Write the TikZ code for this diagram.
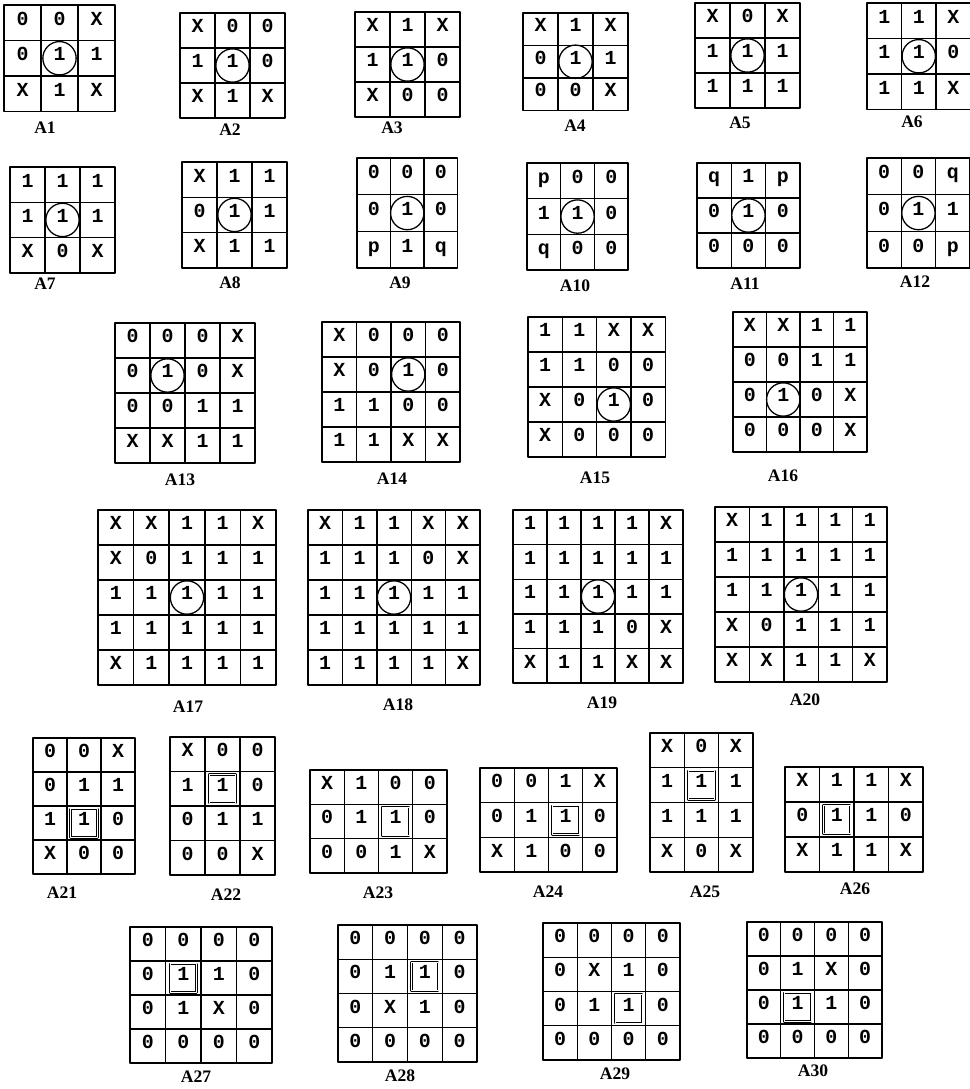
\documentclass[tikz,border=0pt]{standalone}
\usepackage{fontspec}
\newfontfamily\cellfont{Liberation Mono}
\newfontfamily\labfont{Liberation Serif}

\tikzset{
  cellbox/.style={draw, line width=1.2pt},
  cellnum/.style={font=\cellfont\bfseries\fontsize{17}{17}\selectfont, inner sep=0pt,
    text height=0.6em, text depth=0.18em},
  ring/.style={draw, circle, line width=1.1pt, minimum size=1.0cm, inner sep=0pt},
  framecell/.style={draw, double, double distance=0.6pt, line width=0.7pt,
    minimum width=0.8cm, minimum height=0.86cm, inner sep=0pt},
  plabel/.style={font=\labfont\bfseries\fontsize{15}{15}\selectfont, inner sep=0pt}
}

% #1 name, #2 top left corner, #3 cell width, #4 cell height, #5 rows
\newcommand{\patgrid}[5]{%
  \begin{scope}[shift={#2}, x=#3*0.03cm, y=-#4*0.03cm]
    \foreach \row [count=\ri] in {#5} {
      \foreach \v [count=\ci] in \row {
        \draw[cellbox] (\ci-1,\ri-1) rectangle (\ci,\ri);
        \node[cellnum] (#1-\ri-\ci) at (\ci-0.5,\ri-0.5) {\v};
      }
    }
  \end{scope}}

\begin{document}
\begin{tikzpicture}[x=0.03cm, y=-0.03cm, line join=round, line cap=round]
  \useasboundingbox (0,0) rectangle (969,1089);

  % Row 1: 3x3 masks
  \patgrid{A1}{(4,5)}{37}{35.5}{{0,0,X},{0,1,1},{X,1,X}}
  \patgrid{A2}{(180,13)}{35}{35}{{X,0,0},{1,1,0},{X,1,X}}
  \patgrid{A3}{(355,12)}{35}{35}{{X,1,X},{1,1,0},{X,0,0}}
  \patgrid{A4}{(523,13)}{35}{32.5}{{X,1,X},{0,1,1},{0,0,X}}
  \patgrid{A5}{(695,3)}{35}{35}{{X,0,X},{1,1,1},{1,1,1}}
  \patgrid{A6}{(867,3)}{34.5}{35.5}{{1,1,X},{1,1,0},{1,1,X}}
  \foreach \g in {A1,A2,A3,A4,A5,A6}
    \node[ring] (\g-mark) at (\g-2-2) {};
  \node[plabel] (A1-lab) at (45,128) {A1};
  \node[plabel] (A2-lab) at (230,130) {A2};
  \node[plabel] (A3-lab) at (392,128) {A3};
  \node[plabel] (A4-lab) at (575,126) {A4};
  \node[plabel] (A5-lab) at (740,123) {A5};
  \node[plabel] (A6-lab) at (912,122) {A6};

  % Row 2
  \patgrid{A7}{(10,167)}{35}{35.3}{{1,1,1},{1,1,1},{X,0,X}}
  \patgrid{A8}{(182,162)}{35}{35.3}{{X,1,1},{0,1,1},{X,1,1}}
  \patgrid{A9}{(357,158)}{33.5}{36.7}{{0,0,0},{0,1,0},{p,1,q}}
  \patgrid{A10}{(527,163)}{33.7}{35.7}{{p,0,0},{1,1,0},{q,0,0}}
  \patgrid{A11}{(697,163)}{34.3}{35}{{q,1,p},{0,1,0},{0,0,0}}
  \patgrid{A12}{(867,158)}{34.3}{36.7}{{0,0,q},{0,1,1},{0,0,p}}
  \foreach \g in {A7,A8,A9,A10,A11,A12}
    \node[ring] (\g-mark) at (\g-2-2) {};
  \node[plabel] (A7-lab) at (45,284) {A7};
  \node[plabel] (A8-lab) at (230,283) {A8};
  \node[plabel] (A9-lab) at (400,283) {A9};
  \node[plabel] (A10-lab) at (575,286) {A10};
  \node[plabel] (A11-lab) at (745,284) {A11};
  \node[plabel] (A12-lab) at (915,282) {A12};

  % Row 3: 4x4 masks
  \patgrid{A13}{(115,323)}{35}{35}{{0,0,0,X},{0,1,0,X},{0,0,1,1},{X,X,1,1}}
  \patgrid{A14}{(322,322)}{34.5}{35}{{X,0,0,0},{X,0,1,0},{1,1,0,0},{1,1,X,X}}
  \patgrid{A15}{(528,317)}{34.3}{35}{{1,1,X,X},{1,1,0,0},{X,0,1,0},{X,0,0,0}}
  \patgrid{A16}{(733,312)}{33.5}{35}{{X,X,1,1},{0,0,1,1},{0,1,0,X},{0,0,0,X}}
  \node[ring] (A13-mark) at (A13-2-2) {};
  \node[ring] (A14-mark) at (A14-2-3) {};
  \node[ring] (A15-mark) at (A15-3-3) {};
  \node[ring] (A16-mark) at (A16-3-2) {};
  \node[plabel] (A13-lab) at (180,480) {A13};
  \node[plabel] (A14-lab) at (392,479) {A14};
  \node[plabel] (A15-lab) at (595,478) {A15};
  \node[plabel] (A16-lab) at (783,476) {A16};

  % Row 4: 5x5 masks
  \patgrid{A17}{(98,510)}{35.6}{35}{{X,X,1,1,X},{X,0,1,1,1},{1,1,1,1,1},{1,1,1,1,1},{X,1,1,1,1}}
  \patgrid{A18}{(308,510)}{34.4}{35}{{X,1,1,X,X},{1,1,1,0,X},{1,1,1,1,1},{1,1,1,1,1},{1,1,1,1,X}}
  \patgrid{A19}{(513,510)}{34}{34.6}{{1,1,1,1,X},{1,1,1,1,1},{1,1,1,1,1},{1,1,1,0,X},{X,1,1,X,X}}
  \patgrid{A20}{(715,507)}{34.4}{35}{{X,1,1,1,1},{1,1,1,1,1},{1,1,1,1,1},{X,0,1,1,1},{X,X,1,1,X}}
  \foreach \g in {A17,A18,A19,A20}
    \node[ring] (\g-mark) at (\g-3-3) {};
  \node[plabel] (A17-lab) at (188,707) {A17};
  \node[plabel] (A18-lab) at (398,705) {A18};
  \node[plabel] (A19-lab) at (602,703) {A19};
  \node[plabel] (A20-lab) at (805,700) {A20};

  % Row 5: framed centre cell
  \patgrid{A21}{(33,738)}{34}{34}{{0,0,X},{0,1,1},{1,1,0},{X,0,0}}
  \patgrid{A22}{(170,737)}{35}{34.5}{{X,0,0},{1,1,0},{0,1,1},{0,0,X}}
  \patgrid{A23}{(310,770)}{34.25}{34.3}{{X,1,0,0},{0,1,1,0},{0,0,1,X}}
  \patgrid{A24}{(480,768)}{34.25}{34.7}{{0,0,1,X},{0,1,1,0},{X,1,0,0}}
  \patgrid{A25}{(650,733)}{34.3}{34.75}{{X,0,X},{1,1,1},{1,1,1},{X,0,X}}
  \patgrid{A26}{(785,767)}{34.5}{35}{{X,1,1,X},{0,1,1,0},{X,1,1,X}}
  \node[framecell] (A21-mark) at (A21-3-2) {};
  \node[framecell] (A22-mark) at (A22-2-2) {};
  \node[framecell] (A23-mark) at (A23-2-3) {};
  \node[framecell] (A24-mark) at (A24-2-3) {};
  \node[framecell] (A25-mark) at (A25-2-2) {};
  \node[framecell] (A26-mark) at (A26-2-2) {};
  \node[plabel] (A21-lab) at (62,893) {A21};
  \node[plabel] (A22-lab) at (226,895) {A22};
  \node[plabel] (A23-lab) at (378,893) {A23};
  \node[plabel] (A24-lab) at (548,892) {A24};
  \node[plabel] (A25-lab) at (705,892) {A25};
  \node[plabel] (A26-lab) at (855,889) {A26};

  % Row 6
  \patgrid{A27}{(130,927)}{35.5}{34}{{0,0,0,0},{0,1,1,0},{0,1,X,0},{0,0,0,0}}
  \patgrid{A28}{(338,925)}{34.75}{34.25}{{0,0,0,0},{0,1,1,0},{0,X,1,0},{0,0,0,0}}
  \patgrid{A29}{(543,923)}{34.25}{34.25}{{0,0,0,0},{0,X,1,0},{0,1,1,0},{0,0,0,0}}
  \patgrid{A30}{(747,922)}{33.75}{34}{{0,0,0,0},{0,1,X,0},{0,1,1,0},{0,0,0,0}}
  \node[framecell] (A27-mark) at (A27-2-2) {};
  \node[framecell] (A28-mark) at (A28-2-3) {};
  \node[framecell] (A29-mark) at (A29-3-3) {};
  \node[framecell] (A30-mark) at (A30-3-2) {};
  \node[plabel] (A27-lab) at (196,1077) {A27};
  \node[plabel] (A28-lab) at (400,1076) {A28};
  \node[plabel] (A29-lab) at (615,1074) {A29};
  \node[plabel] (A30-lab) at (813,1071) {A30};
\end{tikzpicture}
\end{document}
